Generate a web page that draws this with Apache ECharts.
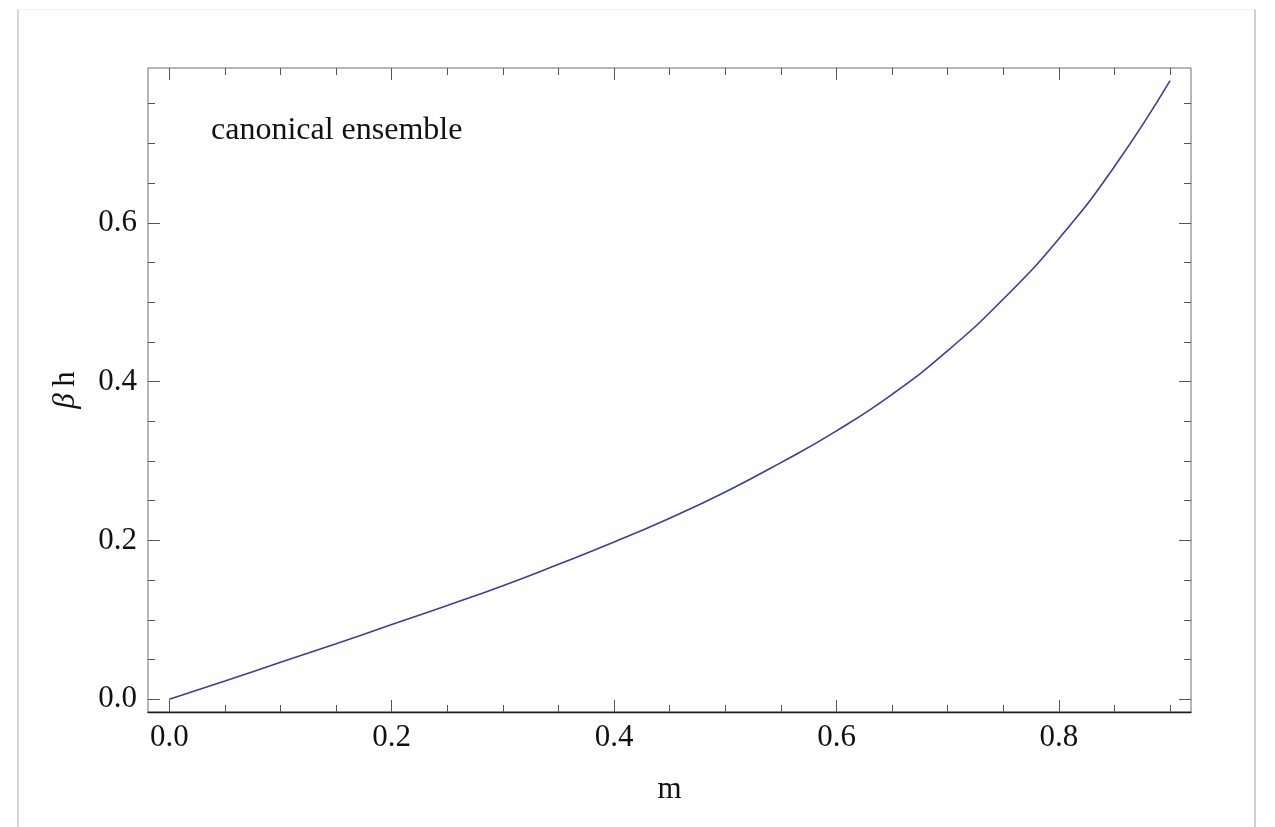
<!DOCTYPE html>
<html>
<head>
<meta charset="utf-8">
<script src="https://cdn.jsdelivr.net/npm/echarts@6/dist/echarts.min.js"></script>
<style>
  html, body { margin: 0; padding: 0; background: #ffffff; }
  #panel { position: absolute; left: 17px; top: 9px; width: 1235px; height: 900px;
           border-left: 2px solid #d6d6d6; border-right: 2px solid #cfcfcf; border-top: 1px solid #f0f0f0; }
  #chart { position: absolute; left: 0; top: 0; width: 1275px; height: 827px; }
</style>
</head>
<body>
<div id="panel"></div>
<div id="chart"></div>
<script>
// ---- data ----
const mValues = [0, 0.05, 0.1, 0.15, 0.2, 0.25, 0.3, 0.35, 0.4, 0.45, 0.5, 0.55, 0.6, 0.65, 0.7, 0.75, 0.8, 0.85, 0.9];
const betaH   = [0, 0.023, 0.0465, 0.070, 0.094, 0.118, 0.143, 0.170, 0.198, 0.228, 0.261, 0.298, 0.338, 0.384, 0.439, 0.504, 0.580, 0.671, 0.779];
const xMajorTicks = [0, 0.2, 0.4, 0.6, 0.8];
const xMinorTicks = [0.05, 0.1, 0.15, 0.25, 0.3, 0.35, 0.45, 0.5, 0.55, 0.65, 0.7, 0.75, 0.85, 0.9];
const yMajorTicks = [0, 0.2, 0.4, 0.6];
const yMinorTicks = [0.05, 0.1, 0.15, 0.25, 0.3, 0.35, 0.45, 0.5, 0.55, 0.65, 0.7, 0.75];
const annotation = 'canonical ensemble';
const xName = 'm';

const X_MIN = -0.0192, X_MAX = 0.9188;
const Y_MIN = -0.0161, Y_MAX = 0.7950;
const FONT = '"Liberation Serif", "Times New Roman", serif';
const FS = 31;
const TICK = { color: '#555', width: 1 };

function xAx(grid, pos, vals, len, opts) {
  return Object.assign({
    type: 'value', gridIndex: grid, position: pos, min: X_MIN, max: X_MAX,
    axisLine: { show: false, onZero: false }, splitLine: { show: false },
    axisTick: { show: true, inside: true, length: len, customValues: vals, lineStyle: TICK },
    axisLabel: { show: false }
  }, opts || {});
}
function yAx(grid, pos, vals, len, opts) {
  return Object.assign({
    type: 'value', gridIndex: grid, position: pos, min: Y_MIN, max: Y_MAX,
    axisLine: { show: false, onZero: false }, splitLine: { show: false },
    axisTick: { show: true, inside: true, length: len, customValues: vals, lineStyle: TICK },
    axisLabel: { show: false }
  }, opts || {});
}

const rect = { left: 148, top: 68, right: 84, bottom: 115 };
const chart = echarts.init(document.getElementById('chart'), null, { renderer: 'canvas' });
chart.setOption({
  backgroundColor: 'transparent',
  animation: false,
  grid: [
    Object.assign({ show: true, borderColor: '#6e6e6e', borderWidth: 1, backgroundColor: 'transparent' }, rect),
    Object.assign({ show: false }, rect)
  ],
  xAxis: [
    xAx(0, 'bottom', xMajorTicks, 12, {
      axisLine: { show: true, onZero: false, lineStyle: { color: '#1a1a1a', width: 1.3 } },
      axisLabel: { show: true, customValues: xMajorTicks, margin: 10, color: '#111', fontFamily: FONT, fontSize: FS,
                   formatter: v => v.toFixed(1) },
      name: xName, nameLocation: 'middle', nameGap: 62,
      nameTextStyle: { color: '#111', fontFamily: FONT, fontSize: FS }
    }),
    xAx(0, 'top', xMajorTicks, 12),
    xAx(1, 'bottom', xMinorTicks, 7),
    xAx(1, 'top', xMinorTicks, 7)
  ],
  yAxis: [
    yAx(0, 'left', yMajorTicks, 12, {
      axisLabel: { show: true, customValues: yMajorTicks, margin: 11, color: '#111', fontFamily: FONT, fontSize: FS,
                   formatter: v => v.toFixed(1) },
      name: '{b|β}  {h|h}', nameLocation: 'middle', nameGap: 67, nameRotate: 90,
      nameTextStyle: { rich: {
        b: { fontFamily: FONT, fontSize: FS, fontStyle: 'italic', color: '#111' },
        h: { fontFamily: FONT, fontSize: FS, color: '#111' } } }
    }),
    yAx(0, 'right', yMajorTicks, 12),
    yAx(1, 'left', yMinorTicks, 7),
    yAx(1, 'right', yMinorTicks, 7)
  ],
  graphic: [{
    type: 'text', x: 211, y: 131,
    style: { text: annotation, font: '32px ' + FONT, fill: '#111', textAlign: 'left', textVerticalAlign: 'middle' }
  }],
  series: [{
    type: 'line', xAxisIndex: 0, yAxisIndex: 0,
    data: mValues.map((m, i) => [m, betaH[i]]),
    smooth: 0.5, showSymbol: false, symbol: 'none',
    lineStyle: { color: '#3d3d9e', width: 1.6 }
  }]
});
</script>
</body>
</html>
